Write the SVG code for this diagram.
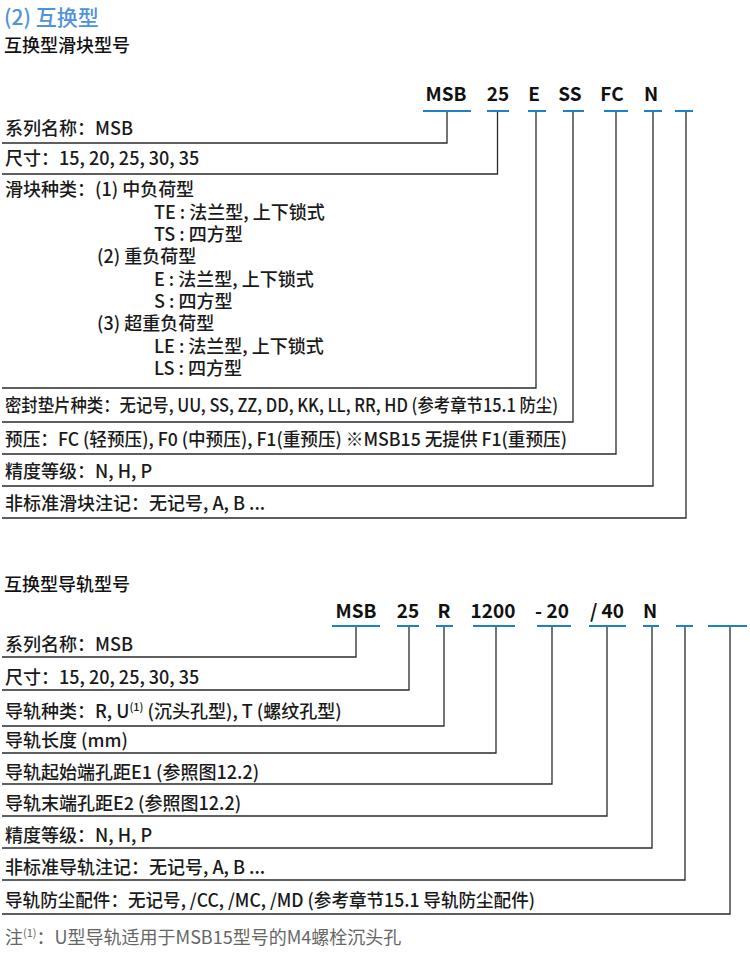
<svg xmlns="http://www.w3.org/2000/svg" width="750" height="954" viewBox="0 0 750 954">
<style>
  .t { font-family: "Noto Sans CJK SC", "Noto Sans", sans-serif; font-size: 18px; font-weight: 500; fill: #1a1a1a; }
  .title { font-family: "Noto Sans CJK SC", "Noto Sans", sans-serif; font-size: 21px; font-weight: 500; fill: #4f93d8; }
  .sub { font-family: "Noto Sans CJK SC", "Noto Sans", sans-serif; font-size: 18px; font-weight: 500; fill: #111; }
  .code { font-family: "Noto Sans CJK SC", "Noto Sans", sans-serif; font-size: 19px; font-weight: 700; fill: #111; text-anchor: middle; }
  .ul { stroke: #1f7fc7; stroke-width: 2; fill: none; }
  .conn { fill: none; stroke: #2b2b2b; stroke-width: 1.3; }
  .note { font-family: "Noto Sans CJK SC", "Noto Sans", sans-serif; font-size: 18px; font-weight: 400; fill: #666; }
  .sup { font-size: 11px; }
</style>

<g id="title"><text class="title" x="4" y="25">(2) 互换型</text></g>
<g id="heading-block"><text class="sub" x="4" y="52">互换型滑块型号</text></g>

<!-- block model codes -->
<g id="bcode-msb"><text class="code" x="446" y="101">MSB</text><line class="ul" x1="423" y1="111" x2="471" y2="111"/></g>
<g id="bcode-25"><text class="code" x="498" y="101">25</text><line class="ul" x1="487" y1="111" x2="509" y2="111"/></g>
<g id="bcode-e"><text class="code" x="534" y="101">E</text><line class="ul" x1="528" y1="111" x2="546" y2="111"/></g>
<g id="bcode-ss"><text class="code" x="570" y="101">SS</text><line class="ul" x1="563" y1="111" x2="584" y2="111"/></g>
<g id="bcode-fc"><text class="code" x="612" y="101">FC</text><line class="ul" x1="604" y1="111" x2="628" y2="111"/></g>
<g id="bcode-n"><text class="code" x="651" y="101">N</text><line class="ul" x1="644" y1="111" x2="662" y2="111"/></g>
<g id="bcode-blank"><line class="ul" x1="675" y1="111" x2="693" y2="111"/></g>

<!-- block descriptions -->
<g id="b-series"><text class="t" x="5" y="134.5">系列名称：MSB</text></g>
<g id="b-size"><text class="t" x="5" y="165">尺寸：15, 20, 25, 30, 35</text></g>
<g id="b-type">
  <text class="t" x="5" y="196">滑块种类：(1) 中负荷型</text>
  <text class="t" x="154" y="219">TE : 法兰型, 上下锁式</text>
  <text class="t" x="154" y="241">TS : 四方型</text>
  <text class="t" x="97" y="263">(2) 重负荷型</text>
  <text class="t" x="154" y="286">E : 法兰型, 上下锁式</text>
  <text class="t" x="154" y="308">S : 四方型</text>
  <text class="t" x="97" y="330">(3) 超重负荷型</text>
  <text class="t" x="154" y="353">LE : 法兰型, 上下锁式</text>
  <text class="t" x="154" y="375">LS : 四方型</text>
</g>
<g id="b-seal"><text class="t" x="5" y="411.5" textLength="553" lengthAdjust="spacingAndGlyphs">密封垫片种类：无记号, UU, SS, ZZ, DD, KK, LL, RR, HD (参考章节15.1 防尘)</text></g>
<g id="b-preload"><text class="t" x="5" y="446" textLength="562" lengthAdjust="spacingAndGlyphs">预压：FC (轻预压), F0 (中预压), F1(重预压) ※MSB15 无提供 F1(重预压)</text></g>
<g id="b-accuracy"><text class="t" x="5" y="478">精度等级：N, H, P</text></g>
<g id="b-nonstd"><text class="t" x="5" y="510">非标准滑块注记：无记号, A, B ...</text></g>

<!-- rail section -->
<g id="heading-rail"><text class="sub" x="4" y="591">互换型导轨型号</text></g>

<g id="rcode-msb"><text class="code" x="356" y="618">MSB</text><line class="ul" x1="332" y1="626" x2="380" y2="626"/></g>
<g id="rcode-25"><text class="code" x="408" y="618">25</text><line class="ul" x1="397" y1="626" x2="419" y2="626"/></g>
<g id="rcode-r"><text class="code" x="444" y="618">R</text><line class="ul" x1="436" y1="626" x2="453" y2="626"/></g>
<g id="rcode-1200"><text class="code" x="493" y="618">1200</text><line class="ul" x1="473" y1="626" x2="515" y2="626"/></g>
<g id="rcode-20"><text class="code" x="552" y="618">- 20</text><line class="ul" x1="537" y1="626" x2="571" y2="626"/></g>
<g id="rcode-40"><text class="code" x="607" y="618">/ 40</text><line class="ul" x1="589" y1="626" x2="626" y2="626"/></g>
<g id="rcode-n"><text class="code" x="650" y="618">N</text><line class="ul" x1="643" y1="626" x2="659" y2="626"/></g>
<g id="rcode-blank1"><line class="ul" x1="676" y1="626" x2="693" y2="626"/></g>
<g id="rcode-blank2"><line class="ul" x1="708" y1="626" x2="747" y2="626"/></g>

<g id="r-series"><text class="t" x="5" y="651">系列名称：MSB</text></g>
<g id="r-size"><text class="t" x="5" y="683.5">尺寸：15, 20, 25, 30, 35</text></g>
<g id="r-type"><text class="t" x="5" y="717.5">导轨种类：R, U<tspan class="sup" dy="-7">(1)</tspan><tspan dy="7"> (沉头孔型), T (螺纹孔型)</tspan></text></g>
<g id="r-length"><text class="t" x="5" y="746.5">导轨长度 (mm)</text></g>
<g id="r-e1"><text class="t" x="5" y="778.5">导轨起始端孔距E1 (参照图12.2)</text></g>
<g id="r-e2"><text class="t" x="5" y="810">导轨末端孔距E2 (参照图12.2)</text></g>
<g id="r-accuracy"><text class="t" x="5" y="842">精度等级：N, H, P</text></g>
<g id="r-nonstd"><text class="t" x="5" y="873.5">非标准导轨注记：无记号, A, B ...</text></g>
<g id="r-dust"><text class="t" x="5" y="906.5" textLength="530" lengthAdjust="spacingAndGlyphs">导轨防尘配件：无记号, /CC, /MC, /MD (参考章节15.1 导轨防尘配件)</text></g>
<g id="footnote"><text class="note" x="5" y="944">注<tspan class="sup" dy="-7">(1)</tspan><tspan dy="7">：U型导轨适用于MSB15型号的M4螺栓沉头孔</tspan></text></g>

<g id="connectors">
  <path class="conn" d="M447 112 V143 H2"/>
  <path class="conn" d="M497.5 112 V174 H2"/>
  <path class="conn" d="M536 112 V388 H2"/>
  <path class="conn" d="M573 112 V422 H2"/>
  <path class="conn" d="M616 112 V454 H2"/>
  <path class="conn" d="M653 112 V486 H2"/>
  <path class="conn" d="M686 112 V518 H2"/>

  <path class="conn" d="M356 627 V657 H2"/>
  <path class="conn" d="M409 627 V690 H2"/>
  <path class="conn" d="M444 627 V726 H2"/>
  <path class="conn" d="M496 627 V753 H2"/>
  <path class="conn" d="M552 627 V784 H2"/>
  <path class="conn" d="M607 627 V816 H2"/>
  <path class="conn" d="M652 627 V848 H2"/>
  <path class="conn" d="M685 627 V880 H2"/>
  <path class="conn" d="M730 627 V914 H2"/>
</g>
</svg>
